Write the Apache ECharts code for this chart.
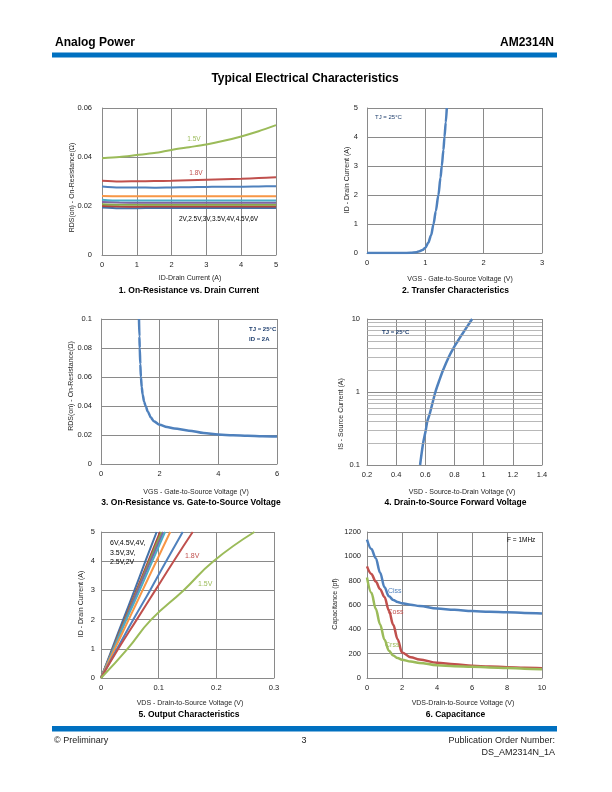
<!DOCTYPE html>
<html><head><meta charset="utf-8">
<script src="https://cdn.jsdelivr.net/npm/echarts@6/dist/echarts.min.js"></script>
<style>html,body{margin:0;padding:0;background:#fff}#c{width:612px;height:792px}</style>
</head><body><div id="c"></div>
<script>
// ---------- DATA ----------
const vgsNames = ['1.5V','1.8V','2V','2.5V','3V','3.5V','4V','4.5V','6V'];
const vgsColors = ['#9BBB59','#C0504D','#4F81BD','#F79646','#4BACC6','#8064A2','#86A84A','#B2433F','#4472A8'];

// Chart 1: RDS(on) vs ID
const c1Id = [0,0.5,1,1.5,2,2.5,3,3.5,4,4.5,5];
const c1Rds = [
  [0.0395,0.0400,0.0408,0.0416,0.0429,0.0440,0.0451,0.0466,0.0484,0.0505,0.0530],
  [0.0303,0.0300,0.0301,0.0302,0.0303,0.0305,0.0307,0.0309,0.0311,0.0314,0.0317],
  [0.0280,0.0276,0.0276,0.0275,0.0276,0.0277,0.0278,0.0279,0.0279,0.0280,0.0281],
  [0.0241,0.0240,0.0240,0.0240,0.0240,0.0240,0.0240,0.0240,0.0240,0.0240,0.0240],
  [0.0226,0.0222,0.0222,0.0222,0.0222,0.0222,0.0222,0.0222,0.0222,0.0222,0.0222],
  [0.0216,0.0214,0.0213,0.0213,0.0213,0.0213,0.0213,0.0213,0.0213,0.0213,0.0213],
  [0.0207,0.0205,0.0205,0.0205,0.0205,0.0205,0.0205,0.0205,0.0205,0.0205,0.0205],
  [0.0200,0.0198,0.0197,0.0198,0.0198,0.0198,0.0198,0.0198,0.0198,0.0198,0.0198],
  [0.0194,0.0191,0.0191,0.0192,0.0192,0.0192,0.0192,0.0192,0.0192,0.0192,0.0192]
];

// Chart 2: Transfer characteristics
const c2Vgs = [0,0.3,0.6,0.75,0.85,0.9,0.95,1.0,1.05,1.1,1.14,1.18,1.224,1.26,1.282,1.31,1.328,1.35,1.368];
const c2Id  = [0,0,0,0.005,0.03,0.06,0.1,0.18,0.35,0.62,1.0,1.45,2.0,2.6,3.0,3.55,4.0,4.5,5.0];

// Chart 3: RDS(on) vs VGS
const c3Vgs = [1.295,1.31,1.32,1.34,1.36,1.39,1.42,1.47,1.52,1.6,1.7,1.8,2,2.25,2.5,3,3.5,4,4.5,5,5.5,6];
const c3Rds = [0.1,0.088,0.08,0.069,0.06,0.053,0.048,0.043,0.04,0.036,0.032,0.0295,0.027,0.0255,0.0245,0.023,0.0214,0.0203,0.0198,0.0195,0.0192,0.019];

// Chart 4: Source-drain forward voltage
const c4Vsd = [0.564,0.585,0.603,0.614,0.630,0.669,0.699,0.722,0.760,0.793,0.823,0.848,0.889,0.921];
const c4Is  = [0.1,0.2,0.3,0.4,0.5,1,1.5,2,3,4,5,6,8,10];
const c4Minor = [0.2,0.3,0.4,0.5,0.6,0.7,0.8,0.9,2,3,4,5,6,7,8,9];

// Chart 5: Output characteristics (VDS at each ID level)
const c5Id = [0,1,2,3,4,5];
const c5Vds = [
  [0,0.046,0.087,0.143,0.195,0.266],
  [0,0.030,0.062,0.094,0.126,0.159],
  [0,0.028,0.056,0.085,0.113,0.1417],
  [0,0.024,0.048,0.072,0.096,0.120],
  [0,0.022,0.044,0.067,0.089,0.111],
  [0,0.0215,0.043,0.064,0.086,0.108],
  [0,0.021,0.042,0.063,0.084,0.105],
  [0,0.0205,0.041,0.0615,0.082,0.1025],
  [0,0.0192,0.0385,0.058,0.077,0.0965]
];

// Chart 6: Capacitance
const c6Vds  = [0,0.25,0.5,0.75,1,1.25,1.5,1.75,2,2.5,3,4,5,6,7,8,9,10];
const c6Ciss = [1137,1060,985,865,745,672,641,625,614,602,592,572,560,550,545,540,535,531];
const c6Coss = [917,855,793,730,665,555,437,318,210,170,152,125,112,100,95,89,84,80];
const c6Crss = [826,700,570,440,315,225,184,164,151,135,124,105,97,92,87,82,77,72];
const c6Names = ['Ciss','Coss','Crss'];
const c6Colors = ['#4F81BD','#C0504D','#9BBB59'];

// ---------- OPTION ----------
const FONT = '"Liberation Sans", Arial, sans-serif';
const GRID_C = '#8a8a8a';
const zip = (xs, ys) => xs.map((x, i) => [x, ys[i]]);

function vAxis(gi, min, max, interval, labelMargin, extra) {
  return Object.assign({
    type: 'value', gridIndex: gi, min: min, max: max, interval: interval,
    axisLine: { show: true, lineStyle: { color: GRID_C, width: 1 } },
    axisTick: { show: false },
    splitLine: { show: true, lineStyle: { color: GRID_C, width: 1 } },
    axisLabel: { fontFamily: FONT, fontSize: 7.5, color: '#222', margin: labelMargin,
                 formatter: v => String(+v.toFixed(6)) }
  }, extra || {});
}

const grids = [
  { left: 102, top: 108, width: 174, height: 147 },
  { left: 367, top: 108, width: 175, height: 145 },
  { left: 101, top: 319, width: 176, height: 145 },
  { left: 367, top: 319, width: 175, height: 146 },
  { left: 101, top: 532, width: 173, height: 146 },
  { left: 367, top: 532, width: 175, height: 146 }
];

const xAxes = [
  vAxis(0, 0, 5, 1, 6),
  vAxis(1, 0, 3, 1, 6),
  vAxis(2, 0, 6, 2, 6),
  vAxis(3, 0.2, 1.4, 0.2, 6),
  vAxis(4, 0, 0.3, 0.1, 6),
  vAxis(5, 0, 10, 2, 6)
];
const yAxes = [
  vAxis(0, 0, 0.06, 0.02, 10),
  vAxis(1, 0, 5, 1, 9),
  vAxis(2, 0, 0.1, 0.02, 9),
  vAxis(3, 0.1, 10, null, 7, { type: 'log', logBase: 10, interval: undefined }),
  vAxis(4, 0, 5, 1, 6),
  vAxis(5, 0, 1200, 200, 6)
];

const series = [];
vgsNames.forEach((n, i) => {
  series.push({ type: 'line', name: 'RDS ' + n, xAxisIndex: 0, yAxisIndex: 0,
    data: zip(c1Id, c1Rds[i]), showSymbol: false, smooth: 0.3,
    lineStyle: { color: vgsColors[i], width: 2 }, itemStyle: { color: vgsColors[i] }, z: 10 - i });
});
series.push({ type: 'line', name: 'Transfer', xAxisIndex: 1, yAxisIndex: 1,
  data: zip(c2Vgs, c2Id), showSymbol: false, smooth: 0.3, smoothMonotone: 'x',
  lineStyle: { color: '#4F81BD', width: 2.5 }, itemStyle: { color: '#4F81BD' } });
series.push({ type: 'line', name: 'RDS vs VGS', xAxisIndex: 2, yAxisIndex: 2,
  data: zip(c3Vgs, c3Rds), showSymbol: false, smooth: 0.3, smoothMonotone: 'x',
  lineStyle: { color: '#4F81BD', width: 2.5 }, itemStyle: { color: '#4F81BD' } });
series.push({ type: 'line', name: 'IS vs VSD', xAxisIndex: 3, yAxisIndex: 3,
  data: zip(c4Vsd, c4Is), showSymbol: false, smooth: 0.3,
  lineStyle: { color: '#4F81BD', width: 2.5 }, itemStyle: { color: '#4F81BD' },
  markLine: { silent: true, symbol: 'none', label: { show: false }, animation: false,
    lineStyle: { color: '#a6a6a6', width: 0.8, type: 'solid' },
    data: c4Minor.map(v => ({ yAxis: v })) } });
vgsNames.forEach((n, i) => {
  series.push({ type: 'line', name: 'Output ' + n, xAxisIndex: 4, yAxisIndex: 4,
    data: zip(c5Vds[i], c5Id), showSymbol: false, smooth: 0.5,
    lineStyle: { color: vgsColors[i], width: 2 }, itemStyle: { color: vgsColors[i] }, z: 10 - i });
});
[c6Ciss, c6Coss, c6Crss].forEach((arr, i) => {
  series.push({ type: 'line', name: c6Names[i], xAxisIndex: 5, yAxisIndex: 5,
    data: zip(c6Vds, arr), showSymbol: false, smooth: 0.35, smoothMonotone: 'x',
    lineStyle: { color: c6Colors[i], width: 2.5 }, itemStyle: { color: c6Colors[i] } });
});

function txt(text, x, y, opt) {
  opt = opt || {};
  return { type: 'text', x: x, y: y, rotation: opt.rot || 0, z: 100,
    style: { text: text, x: 0, y: 0,
      font: (opt.bold ? 'bold ' : '') + (opt.size || 7) + 'px ' + (opt.family || FONT),
      fill: opt.color || '#262626',
      align: opt.align || 'center', textAlign: opt.align || 'center',
      verticalAlign: 'middle', textVerticalAlign: 'middle' } };
}
const NAVY = '#1F3F6E';
const graphic = [
  // header
  txt('Analog Power', 55, 42.5, { size: 12, bold: true, align: 'left', color: '#000' }),
  txt('AM2314N', 554, 42.5, { size: 12, bold: true, align: 'right', color: '#000' }),
  { type: 'rect', shape: { x: 52, y: 52.5, width: 505, height: 5 }, style: { fill: '#0070C0' } },
  txt('Typical Electrical Characteristics', 305, 79, { size: 12, bold: true, color: '#000' }),
  // footer
  { type: 'rect', shape: { x: 52, y: 726, width: 505, height: 5.5 }, style: { fill: '#0070C0' } },
  txt('© Preliminary', 54, 741, { size: 9, align: 'left', color: '#222' }),
  txt('3', 304, 741, { size: 9, color: '#222' }),
  txt('Publication Order Number:', 555, 741, { size: 9, align: 'right', color: '#222' }),
  txt('DS_AM2314N_1A', 555, 752.5, { size: 9, align: 'right', color: '#222' }),
  // captions
  txt('1. On-Resistance vs. Drain Current', 189, 290.5, { size: 8.5, bold: true, color: '#000' }),
  txt('2. Transfer Characteristics', 455.5, 290.5, { size: 8.5, bold: true, color: '#000' }),
  txt('3. On-Resistance vs. Gate-to-Source Voltage', 191, 503, { size: 8.5, bold: true, color: '#000' }),
  txt('4. Drain-to-Source Forward Voltage', 455.5, 503, { size: 8.5, bold: true, color: '#000' }),
  txt('5. Output Characteristics', 189, 715, { size: 8.5, bold: true, color: '#000' }),
  txt('6. Capacitance', 455.5, 715, { size: 8.5, bold: true, color: '#000' }),
  // axis titles
  txt('ID-Drain Current (A)', 190, 278.5),
  txt('RDS(on) - On-Resistance(Ω)', 72, 187.5, { rot: Math.PI / 2 }),
  txt('VGS - Gate-to-Source Voltage (V)', 460, 279),
  txt('ID - Drain Current (A)', 347, 180, { rot: Math.PI / 2 }),
  txt('VGS - Gate-to-Source Voltage (V)', 196, 492),
  txt('RDS(on) - On-Resistance(Ω)', 71, 386, { rot: Math.PI / 2 }),
  txt('VSD - Source-to-Drain Voltage (V)', 462, 492),
  txt('IS - Source Current (A)', 341, 414, { rot: Math.PI / 2 }),
  txt('VDS - Drain-to-Source Voltage (V)', 190, 703),
  txt('ID - Drain Current (A)', 81, 604, { rot: Math.PI / 2 }),
  txt('VDS-Drain-to-Source Voltage (V)', 463, 703),
  txt('Capacitance (pf)', 335, 604, { rot: Math.PI / 2 }),
  // annotations chart 1
  txt('1.5V', 194, 139, { size: 6.5, color: '#9BBB59' }),
  txt('1.8V', 196, 173, { size: 6.5, color: '#C0504D' }),
  txt('2V,2.5V,3V,3.5V,4V,4.5V,6V', 179, 219.5, { size: 6.5, align: 'left', color: '#000' }),
  // chart 2
  txt('TJ = 25°C', 375, 117, { size: 6, align: 'left', color: NAVY }),
  // chart 3
  txt('TJ = 25°C', 249, 329, { size: 6, bold: true, align: 'left', color: NAVY }),
  txt('ID = 2A', 249, 339, { size: 6, bold: true, align: 'left', color: NAVY }),
  // chart 4
  txt('TJ = 25°C', 382, 332, { size: 6, bold: true, align: 'left', color: NAVY }),
  // chart 5
  txt('6V,4.5V,4V,', 110, 543, { size: 7, align: 'left', color: '#000' }),
  txt('3.5V,3V,', 110, 553, { size: 7, align: 'left', color: '#000' }),
  txt('2.5V,2V', 110, 562.5, { size: 7, align: 'left', color: '#000' }),
  txt('1.8V', 185, 556, { size: 7, align: 'left', color: '#C0504D' }),
  txt('1.5V', 198, 584, { size: 7, align: 'left', color: '#9BBB59' }),
  // chart 6
  txt('Ciss', 388, 591, { size: 7, align: 'left', color: '#4F81BD' }),
  txt('Coss', 387.5, 612, { size: 7, align: 'left', color: '#C0504D' }),
  txt('Crss', 385, 645, { size: 7, align: 'left', color: '#9BBB59' }),
  txt('F = 1MHz', 507, 540, { size: 6.5, align: 'left', color: '#000' })
];

const chart = echarts.init(document.getElementById('c'), null, { renderer: 'canvas' });
chart.setOption({
  backgroundColor: '#fff',
  animation: false,
  grid: grids,
  xAxis: xAxes,
  yAxis: yAxes,
  series: series,
  graphic: graphic
});
</script>
</body></html>
